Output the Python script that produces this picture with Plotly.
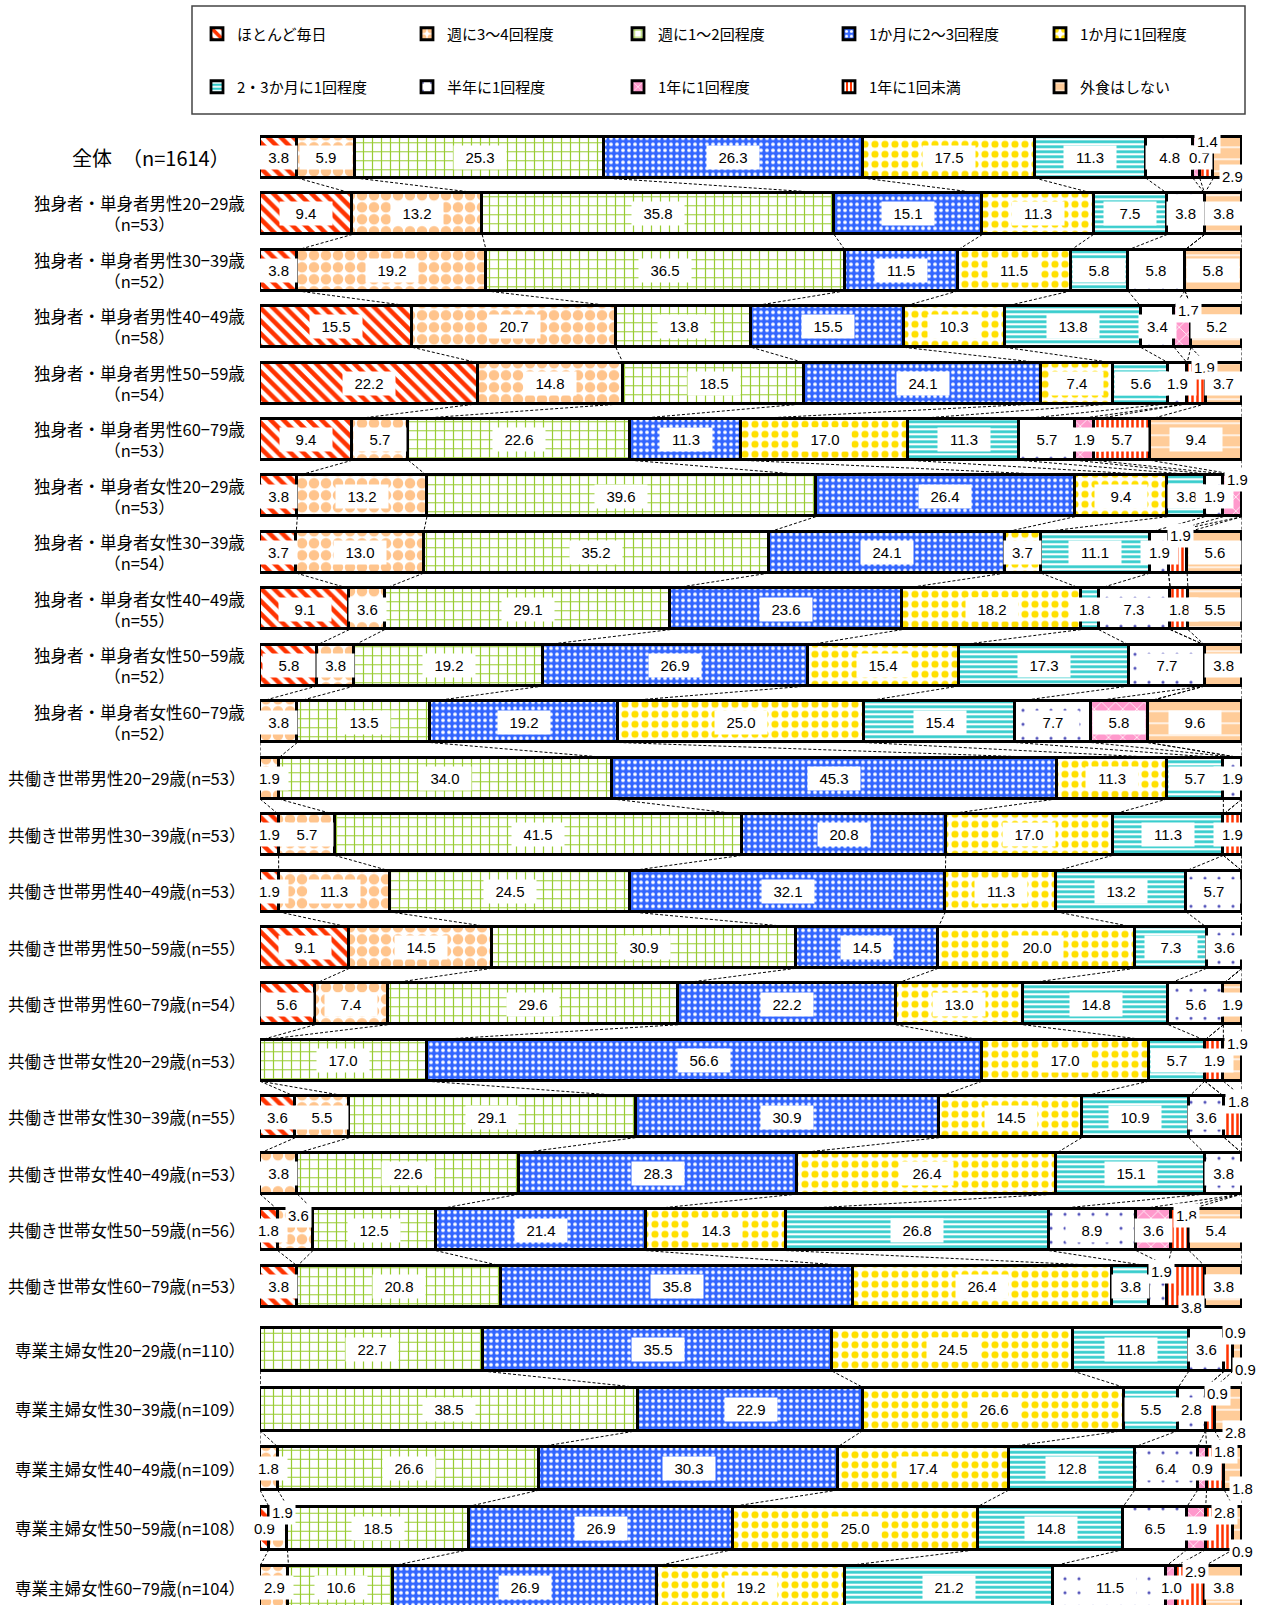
import plotly.graph_objects as go

# ---------------- data ----------------
categories = ["ほとんど毎日", "週に3～4回程度", "週に1～2回程度", "1か月に2～3回程度", "1か月に1回程度",
              "2・3か月に1回程度", "半年に1回程度", "1年に1回程度", "1年に1回未満", "外食はしない"]

labels_top = [
    "全体　（n=1614）",
    "独身者・単身者男性20−29歳<br>（n=53）",
    "独身者・単身者男性30−39歳<br>（n=52）",
    "独身者・単身者男性40−49歳<br>（n=58）",
    "独身者・単身者男性50−59歳<br>（n=54）",
    "独身者・単身者男性60−79歳<br>（n=53）",
    "独身者・単身者女性20−29歳<br>（n=53）",
    "独身者・単身者女性30−39歳<br>（n=54）",
    "独身者・単身者女性40−49歳<br>（n=55）",
    "独身者・単身者女性50−59歳<br>（n=52）",
    "独身者・単身者女性60−79歳<br>（n=52）",
    "共働き世帯男性20−29歳(n=53）",
    "共働き世帯男性30−39歳(n=53）",
    "共働き世帯男性40−49歳(n=53）",
    "共働き世帯男性50−59歳(n=55）",
    "共働き世帯男性60−79歳(n=54）",
    "共働き世帯女性20−29歳(n=53）",
    "共働き世帯女性30−39歳(n=55）",
    "共働き世帯女性40−49歳(n=53）",
    "共働き世帯女性50−59歳(n=56）",
    "共働き世帯女性60−79歳(n=53）",
]
labels_bottom = [
    "専業主婦女性20−29歳(n=110）",
    "専業主婦女性30−39歳(n=109）",
    "専業主婦女性40−49歳(n=109）",
    "専業主婦女性50−59歳(n=108）",
    "専業主婦女性60−79歳(n=104）",
]

v_all = [3.8, 5.9, 25.3, 26.3, 17.5, 11.3, 4.8, 0.7, 1.4, 2.9]
v_sm20 = [9.4, 13.2, 35.8, 15.1, 11.3, 7.5, 3.8, 0, 0, 3.8]
v_sm30 = [3.8, 19.2, 36.5, 11.5, 11.5, 5.8, 5.8, 0, 0, 5.8]
v_sm40 = [15.5, 20.7, 13.8, 15.5, 10.3, 13.8, 3.4, 1.7, 0, 5.2]
v_sm50 = [22.2, 14.8, 18.5, 24.1, 7.4, 5.6, 1.9, 0, 1.9, 3.7]
v_sm60 = [9.4, 5.7, 22.6, 11.3, 17.0, 11.3, 5.7, 1.9, 5.7, 9.4]
v_sf20 = [3.8, 13.2, 39.6, 26.4, 9.4, 3.8, 1.9, 1.9, 0, 0]
v_sf30 = [3.7, 13.0, 35.2, 24.1, 3.7, 11.1, 1.9, 0, 1.9, 5.6]
v_sf40 = [9.1, 3.6, 29.1, 23.6, 18.2, 1.8, 7.3, 0, 1.8, 5.5]
v_sf50 = [5.8, 3.8, 19.2, 26.9, 15.4, 17.3, 7.7, 0, 0, 3.8]
v_sf60 = [0, 3.8, 13.5, 19.2, 25.0, 15.4, 7.7, 5.8, 0, 9.6]
v_dm20 = [0, 1.9, 34.0, 45.3, 11.3, 5.7, 1.9, 0, 0, 0]
v_dm30 = [1.9, 5.7, 41.5, 20.8, 17.0, 11.3, 0, 0, 1.9, 0]
v_dm40 = [1.9, 11.3, 24.5, 32.1, 11.3, 13.2, 5.7, 0, 0, 0]
v_dm50 = [9.1, 14.5, 30.9, 14.5, 20.0, 7.3, 3.6, 0, 0, 0]
v_dm60 = [5.6, 7.4, 29.6, 22.2, 13.0, 14.8, 5.6, 0, 0, 1.9]
v_df20 = [0, 0, 17.0, 56.6, 17.0, 5.7, 0, 0, 1.9, 1.9]
v_df30 = [3.6, 5.5, 29.1, 30.9, 14.5, 10.9, 3.6, 0, 1.8, 0]
v_df40 = [0, 3.8, 22.6, 28.3, 26.4, 15.1, 3.8, 0, 0, 0]
v_df50 = [1.8, 3.6, 12.5, 21.4, 14.3, 26.8, 8.9, 3.6, 1.8, 5.4]
v_df60 = [3.8, 0, 20.8, 35.8, 26.4, 3.8, 1.9, 0, 3.8, 3.8]
v_hw20 = [0, 0, 22.7, 35.5, 24.5, 11.8, 3.6, 0, 0.9, 0.9]
v_hw30 = [0, 0, 38.5, 22.9, 26.6, 5.5, 2.8, 0, 0.9, 2.8]
v_hw40 = [0, 1.8, 26.6, 30.3, 17.4, 12.8, 6.4, 0.9, 1.8, 1.8]
v_hw50 = [0.9, 1.9, 18.5, 26.9, 25.0, 14.8, 6.5, 1.9, 2.8, 0.9]
v_hw60 = [0, 2.9, 10.6, 26.9, 19.2, 21.2, 11.5, 1.0, 2.9, 3.8]

rows_top = [v_all, v_sm20, v_sm30, v_sm40, v_sm50, v_sm60, v_sf20, v_sf30, v_sf40, v_sf50, v_sf60,
            v_dm20, v_dm30, v_dm40, v_dm50, v_dm60, v_df20, v_df30, v_df40, v_df50, v_df60]
rows_bottom = [v_hw20, v_hw30, v_hw40, v_hw50, v_hw60]

# ---------------- styles ----------------
patterns = [
    dict(shape="\\", fgcolor="#FF3300", bgcolor="white", size=9, solidity=0.5),
    dict(shape=".", fgcolor="#FFC48C", bgcolor="white", size=12, solidity=0.6),
    dict(shape="+", fgcolor="#99CC33", bgcolor="white", size=9, solidity=0.25),
    dict(shape=".", fgcolor="white", bgcolor="#3366FF", size=6, solidity=0.3),
    dict(shape=".", fgcolor="#FFE000", bgcolor="white", size=10, solidity=0.4),
    dict(shape="-", fgcolor="#33CCCC", bgcolor="white", size=5, solidity=0.55),
    dict(shape=".", fgcolor="#5555BB", bgcolor="white", size=14, solidity=0.04),
    dict(shape="x", fgcolor="white", bgcolor="#FF99CC", size=10, solidity=0.15),
    dict(shape="|", fgcolor="#FF3300", bgcolor="white", size=5, solidity=0.5),
    dict(shape="-", fgcolor="white", bgcolor="#FFCC99", size=12, solidity=0.12),
]

W, H = 1262, 1605
ML, MR = 260, 20
PW = W - ML - MR
BW = 0.726

# label shifts (dx, dy in px; dy positive = downward) for crowded small segments
label_shift = {
    (0, 7): (3, 0), (0, 8): (1, -16), (0, 9): (5, 19),
    (3, 7): (6, -16), (4, 8): (8, -16), (6, 7): (5, -17), (7, 8): (3, -17),
    (16, 9): (5, -17), (17, 8): (5, -16),
    (19, 1): (3, -15), (19, 8): (6, -15),
    (20, 6): (3, -15), (20, 8): (5, 21),
    (21, 8): (7, -17), (21, 9): (8, 20),
    (22, 8): (7, -16), (22, 9): (7, 23),
    (23, 8): (9, -17), (23, 9): (9, 20),
    (24, 1): (4, -16), (24, 8): (5, -16), (24, 9): (5, 23),
    (25, 8): (5, -16),
}


def legend_name(k):
    return "legend" if k == 0 else f"legend{k + 1}"


fig = go.Figure()
annotations = []
shapes = []


def add_block(rows, xa, ya, showleg, offset):
    n = len(rows)
    ys = list(range(n))
    for k, cat in enumerate(categories):
        fig.add_trace(go.Bar(
            x=[r[k] for r in rows], y=ys, orientation="h", name=cat,
            xaxis=xa, yaxis=ya, width=BW,
            marker=dict(color=patterns[k]["bgcolor"], line=dict(color="black", width=2.8),
                        pattern=dict(fillmode="replace", **patterns[k])),
            showlegend=showleg, legend=legend_name(k),
            hoverinfo="x+name",
        ))
    # normalized cumulative values
    cums = []
    for r in rows:
        s = sum(r)
        c, acc = [], 0.0
        for v in r:
            acc += v / s * 100
            c.append(acc)
        cums.append(c)
    # series connector lines
    cx, cy = [], []
    for i in range(n - 1):
        for k in range(len(categories)):
            cx += [cums[i][k], cums[i + 1][k], None]
            cy += [i + BW / 2, i + 1 - BW / 2, None]
    fig.add_trace(go.Scatter(x=cx, y=cy, mode="lines", xaxis=xa, yaxis=ya,
                             line=dict(color="black", width=1, dash="3px,2px"),
                             showlegend=False, hoverinfo="skip"))
    # data labels
    for i, r in enumerate(rows):
        s = sum(r)
        for k, v in enumerate(r):
            if v <= 0:
                continue
            mid = cums[i][k] - v / s * 100 / 2
            txt = f"{v:.1f}"
            dx, dy = label_shift.get((offset + i, k), (0, 0))
            tw = len(txt) * 8.3 + 8
            segpx = v / s * PW
            width = None
            if (dx, dy) == (0, 0):
                width = max(tw, min(48, segpx - 4))
            annotations.append(dict(
                x=mid, y=i, xref=xa, yref=ya, text=txt, showarrow=False,
                xshift=dx, yshift=-dy, bgcolor="white", borderpad=2,
                width=width, height=19,
                font=dict(family="Liberation Sans, Arial", size=15, color="black"),
            ))


add_block(rows_top, "x", "y", True, 0)
add_block(rows_bottom, "x2", "y2", False, len(rows_top))

# row labels
lab_x = (247 - ML) / PW
for i, t in enumerate(labels_top):
    big = (i == 0)
    annotations.append(dict(
        x=(232 - ML) / PW if big else lab_x, y=i, xref="paper", yref="y", text=t,
        showarrow=False, xanchor="right", yanchor="middle", align="center",
        font=dict(family="Noto Sans CJK JP", size=20 if big else 16.5, color="black"),
    ))
for i, t in enumerate(labels_bottom):
    annotations.append(dict(
        x=lab_x, y=i, xref="paper", yref="y2", text=t,
        showarrow=False, xanchor="right", yanchor="middle", align="center",
        font=dict(family="Noto Sans CJK JP", size=16.5, color="black"),
    ))

# legend frame
shapes.append(dict(type="rect", xref="paper", yref="paper",
                   x0=(192 - ML) / PW, x1=(1245 - ML) / PW,
                   y0=1 - 114 / H, y1=1 - 6 / H,
                   line=dict(color="#444", width=1.5), fillcolor="rgba(0,0,0,0)"))

top_lo = 157.5 - 28.225
top_hi = 157.5 + 20 * 56.45 + 28.225
bot_lo = 1349.5 - 29.75
bot_range_end = -0.5 + (H - bot_lo) / 59.5

legend_text_x = [237, 447, 658, 869, 1080]
legend_row_y = [34, 87]
legends = {}
for k in range(len(categories)):
    legends[legend_name(k)] = dict(
        orientation="h", xanchor="left", yanchor="middle",
        x=(legend_text_x[k % 5] - 40 - ML) / PW, y=1 - legend_row_y[k // 5] / H,
        font=dict(family="Noto Sans CJK JP", size=15, color="black"),
        bgcolor="rgba(0,0,0,0)", itemclick=False, itemdoubleclick=False,
        traceorder="normal",
    )

fig.update_layout(
    width=W, height=H, autosize=False,
    margin=dict(l=ML, r=MR, t=0, b=0, pad=0),
    paper_bgcolor="white", plot_bgcolor="white",
    barmode="stack", barnorm="percent", bargap=0,
    xaxis=dict(domain=[0, 1], range=[0, 100], visible=False, anchor="y", fixedrange=True),
    yaxis=dict(domain=[1 - top_hi / H, 1 - top_lo / H], range=[20.5, -0.5], visible=False,
               anchor="x", fixedrange=True),
    xaxis2=dict(domain=[0, 1], range=[0, 100], visible=False, anchor="y2", fixedrange=True),
    yaxis2=dict(domain=[0, 1 - bot_lo / H], range=[bot_range_end, -0.5], visible=False,
                anchor="x2", fixedrange=True),
    annotations=annotations,
    shapes=shapes,
    showlegend=True,
    **legends,
)

fig.write_html("out.html", config={"displayModeBar": False},
               post_script="document.body.style.margin='0';")
